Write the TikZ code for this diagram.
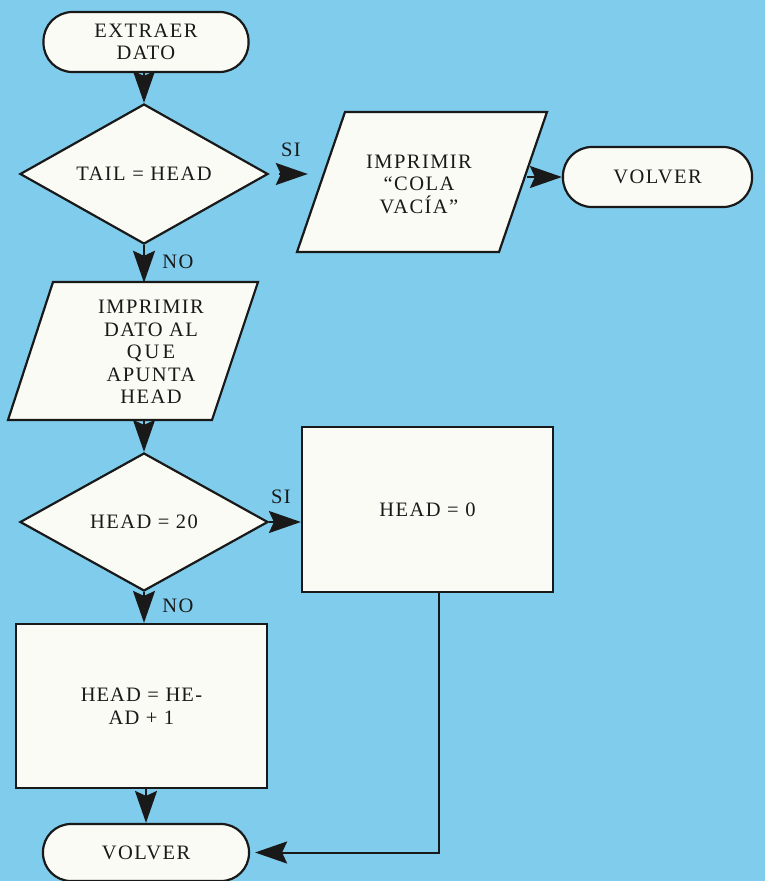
\documentclass[tikz,border=0pt]{standalone}
\usepackage{fontspec}
\setmainfont{Liberation Serif}[LetterSpace=7]
\usetikzlibrary{shapes.geometric,arrows.meta}
\definecolor{bg}{RGB}{128,204,236}
\definecolor{boxfill}{RGB}{251,251,245}
\definecolor{ink}{RGB}{25,25,25}
\begin{document}
\begin{tikzpicture}[x=1pt,y=-1pt,
  txt/.style={font=\fontsize{20.5}{22.5}\selectfont, text=ink, align=center, inner sep=0pt},
  base/.style={txt, draw=ink, line width=2.2pt, fill=boxfill},
  term/.style={base, rectangle, rounded corners=29pt, minimum height=60pt},
  dec/.style={base, diamond, shape aspect=1.77, minimum width=248pt, minimum height=140pt},
  proc/.style={base, rectangle, minimum width=251pt, minimum height=164pt},
  para/.style={draw=ink, line width=2.2pt, fill=boxfill, line join=miter},
  arr/.style={draw=ink, line width=2pt, -{Stealth[length=32pt,width=22pt,inset=5pt]}},
  lbl/.style={txt}
]
\useasboundingbox (0,0) rectangle (765,881);
\fill[bg] (0,0) rectangle (765,881);

% nodes
\node[term, minimum width=205pt] (t0) at (146,42) {EXTRAER\\DATO};
\node[dec] (d1) at (144,174) {TAIL = HEAD};
\draw[para] (345,112) -- (547,112) -- (499,252) -- (297,252) -- cycle;
\node[txt, minimum width=202pt, minimum height=140pt] (p1) at (419,184) {IMPRIMIR\\``COLA\\VACÍA''};
\node[term, minimum width=189pt] (v1) at (657.5,177) {VOLVER};
\draw[para] (53,282) -- (258,282) -- (212,420) -- (8,420) -- cycle;
\node[txt, minimum width=150pt, minimum height=138pt] (p2) at (151,352) {IMPRIMIR\\DATO AL\\Q\kern3pt U\kern3pt E\\APUNTA\\HEAD};
\node[dec, minimum height=138pt] (d2) at (144,522) {HEAD = 20};
\node[proc, minimum height=165pt] (r1) at (427.5,509.5) {HEAD = 0};
\node[proc] (r2) at (141.5,706) {H\kern1pt E\kern1pt A\kern1pt D = H\kern1pt E-\\A\kern1pt D + 1};
\node[term, minimum width=206pt, minimum height=57pt, rounded corners=28pt] (v2) at (146,852.5) {VOLVER};

% labels
\node[lbl] (si1) at (291,150) {SI};
\node[lbl] (no1) at (178,262) {NO};
\node[lbl] (si2) at (281,497) {SI};
\node[lbl] (no2) at (178,606) {NO};

% connectors
\draw[arr] (t0.south -| d1.north) -- (d1.north);
\draw[arr, shorten <=10pt, shorten >=10pt] (d1.east) -- (d1.east -| p1.west);
\draw[arr, shorten <=7pt] (v1.west -| p1.east) -- (v1.west);
\draw[arr] (d1.south) -- (d1.south |- p2.north);
\draw[arr] (p2.south -| d2.north) -- (d2.north);
\draw[arr] (d2.east) -- (r1.west |- d2.east);
\draw[arr] (d2.south) -- (d2.south |- r2.north);
\draw[arr] (r2.south -| v2.north) -- (v2.north);
\coordinate (turn) at (439,852.5);
\draw[arr, line join=miter, shorten >=5pt] (r1.south -| turn) -- (turn) -- (v2.east);
\end{tikzpicture}
\end{document}
